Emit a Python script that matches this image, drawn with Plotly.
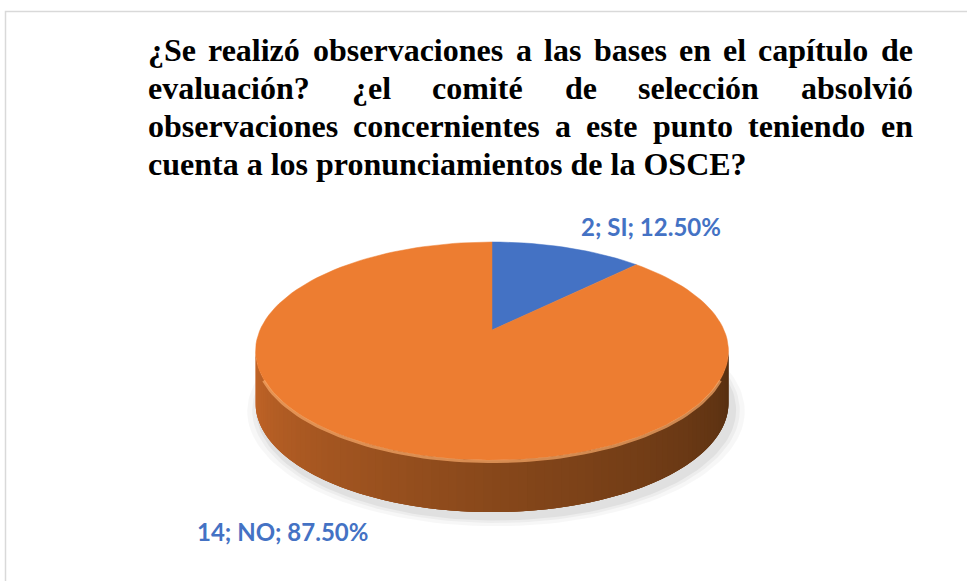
import numpy as np
import plotly.graph_objects as go

# data
categories = ["SI", "NO"]
counts = [2, 14]
slice_colors = ["#4472C4", "#ED7D31"]
label_pos = [(651, 226), (282, 531)]

title_lines = [
    "¿Se realizó observaciones a las bases en el capítulo de",
    "evaluación? ¿el comité de selección absolvió",
    "observaciones concernientes a este punto teniendo en",
    "cuenta a los pronunciamientos de la OSCE?",
]
title_justified = [True, True, True, False]
line_y = [50, 88, 126, 164]
TITLE_LEFT, TITLE_RIGHT, TITLE_SIZE = 146, 911, 32

# Times bold advance widths (per 1000 em), used to justify the title lines
TW = dict(zip("abcdefghijklmnopqrstuvwxyz",
              [500, 556, 444, 556, 444, 333, 500, 556, 278, 333, 556, 278, 833,
               556, 500, 556, 556, 444, 389, 333, 556, 500, 722, 500, 500, 444]))
TW.update(dict(zip("ABCDEFGHIJKLMNOPQRSTUVWXYZ",
                   [722, 667, 722, 722, 667, 611, 778, 778, 389, 500, 778, 667, 944,
                    722, 778, 611, 778, 722, 556, 667, 722, 722, 1000, 722, 722, 667])))
TW.update({"?": 500, "¿": 500, "é": 444, "ó": 500, "í": 278, "á": 500, "ú": 556, "ñ": 556})


def word_width(w, size):
    return sum(TW.get(ch, 500) for ch in w) * size / 1000


# pie geometry (pixels), a flattened disc seen in perspective
CX, CY = 492, 330
A, B, K = 232, 105, 0.193
DEPTH = 52


def proj(theta, drop=0.0, grow=1.0):
    u = np.sin(theta) * grow
    v = np.cos(theta) * grow
    d = 1 + K * v
    return CX + A * u / d, CY - B * v / d + drop


def mix(c1, c2, t):
    return "rgb(%d,%d,%d)" % tuple(int(a + (b - a) * t) for a, b in zip(c1, c2))


fig = go.Figure()

# soft shadow under the disc
full = np.linspace(0, 2 * np.pi, 200)
for g, op in [(1.05, 0.03), (1.03, 0.04), (1.015, 0.05)]:
    sx, sy = proj(full, DEPTH + 6, g)
    fig.add_trace(go.Scatter(x=sx + 4, y=sy, fill="toself", mode="lines",
                             line=dict(width=0), fillcolor="rgba(0,0,0,%.2f)" % op,
                             hoverinfo="skip"))

# side wall: front half, shaded from left (light) to right (dark)
t0 = np.arccos(-K)
t1 = 2 * np.pi - t0
n = 90
edges = np.linspace(t1, t0, n + 1)  # left to right along the front
step = edges[1] - edges[0]
light, mid, dark = (196, 102, 40), (136, 72, 27), (86, 47, 17)
for i in range(n):
    a0 = edges[i]
    a1 = edges[i + 1] + (2 * step if i < n - 1 else 0)  # overlap the next strip
    a1 = max(a1, t0)
    arc = np.linspace(a0, a1, 5)
    tx, ty = proj(arc)
    bx, by = proj(arc[::-1], DEPTH)
    f = i / (n - 1)
    col = mix(light, mid, f / 0.5) if f < 0.5 else mix(mid, dark, (f - 0.5) / 0.5)
    fig.add_trace(go.Scatter(x=np.r_[tx, bx], y=np.r_[ty, by], fill="toself", mode="none",
                             fillcolor=col, hoverinfo="skip"))

# top face slices, starting at 12 o'clock, clockwise
total = sum(counts)
start = 0.0
for cat, c, col in zip(categories, counts, slice_colors):
    end = start + 2 * np.pi * c / total
    arc = np.linspace(start, end, max(int(160 * c / total), 4))
    ax_, ay_ = proj(arc)
    fig.add_trace(go.Scatter(x=np.r_[CX, ax_, CX], y=np.r_[CY, ay_, CY], fill="toself",
                             mode="lines", line=dict(width=0.5, color=col), fillcolor=col,
                             name=cat, hoverinfo="skip"))
    start = end

# light rim along the front edge of the top face
rim = np.linspace(t0 + 0.25, t1 - 0.25, 80)
rx, ry = proj(rim, 1.5)
fig.add_trace(go.Scatter(x=rx, y=ry, mode="lines",
                         line=dict(width=3, color="rgba(248,170,105,0.7)"), hoverinfo="skip"))

# data labels
for cat, c, (lx, ly) in zip(categories, counts, label_pos):
    fig.add_annotation(x=lx, y=ly, text="<b>%d; %s; %.2f%%</b>" % (c, cat, 100 * c / total),
                       showarrow=False, font=dict(family="Lato", size=24, color="#4472C4"))

# title, justified like the original text box
tfont = dict(family="Liberation Serif", size=TITLE_SIZE, color="black")
for txt, just, y in zip(title_lines, title_justified, line_y):
    if just:
        words = txt.split(" ")
        widths = [word_width(w, TITLE_SIZE) for w in words]
        gap = (TITLE_RIGHT - TITLE_LEFT - sum(widths)) / (len(words) - 1)
        x = TITLE_LEFT
        for w, ww in zip(words, widths):
            fig.add_annotation(x=x, y=y, text="<b>%s</b>" % w, showarrow=False,
                               xanchor="left", font=tfont)
            x += ww + gap
    else:
        fig.add_annotation(x=TITLE_LEFT, y=y, text="<b>%s</b>" % txt, showarrow=False,
                           xanchor="left", font=tfont)

# chart border (only top and left visible)
fig.add_shape(type="rect", x0=5.5, y0=11.5, x1=990, y1=600,
              line=dict(color="#D9D9D9", width=1.5))

fig.update_xaxes(range=[0, 967], visible=False, fixedrange=True)
fig.update_yaxes(range=[581, 0], visible=False, fixedrange=True)
fig.update_layout(width=967, height=581, margin=dict(l=0, r=0, t=0, b=0),
                  showlegend=False, plot_bgcolor="white", paper_bgcolor="white")

# drop the default 8px body margin so the figure fills the window
fig.write_html("out.html", config={"displayModeBar": False},
               post_script="document.body.style.margin='0';")
